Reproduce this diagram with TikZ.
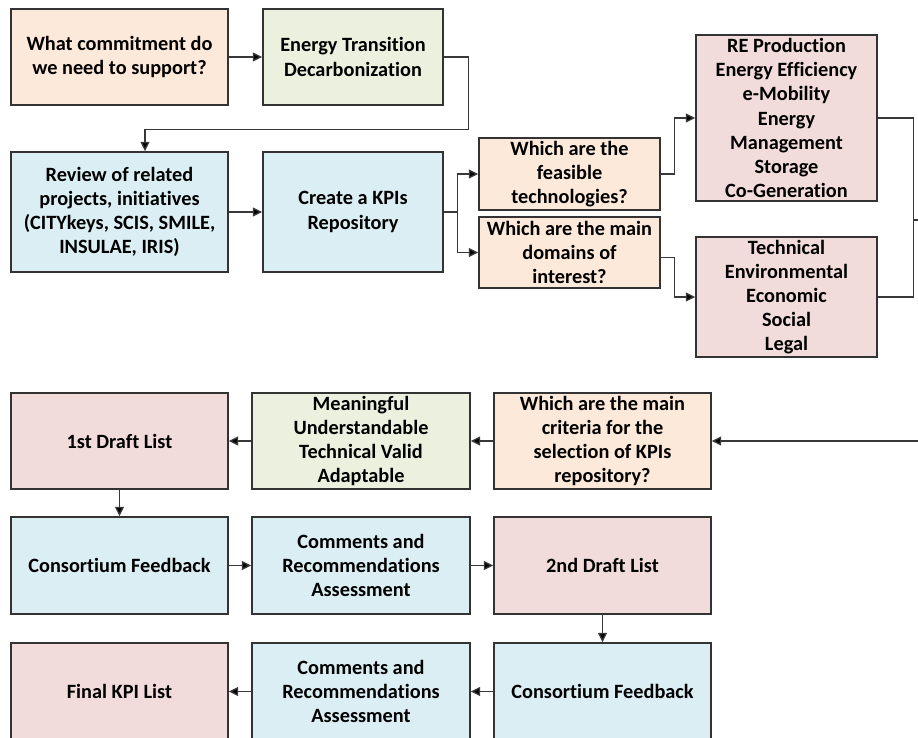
\documentclass[tikz,border=0pt]{standalone}
\usepackage{fontspec}
\setmainfont{Carlito}[Ligatures=NoCommon]
\usetikzlibrary{arrows.meta,calc}
\definecolor{fOrange}{HTML}{FDE9D9}
\definecolor{fGreen}{HTML}{EBF1DE}
\definecolor{fBlue}{HTML}{DAEEF3}
\definecolor{fPink}{HTML}{F2DCDB}
\definecolor{edgeC}{HTML}{333333}
\definecolor{lineC}{HTML}{383838}
\tikzset{
  box/.style={draw=edgeC, line width=1.4pt, inner sep=0pt, align=center,
    font=\fontsize{20.3}{24.2}\selectfont\bfseries, text=black},
  conn/.style={draw=lineC, line width=1.4pt},
  arr/.style={conn, -{Triangle[length=9.5pt,width=9pt,fill=black]}},
}
\begin{document}
\begin{tikzpicture}[x=1pt,y=-1pt]
\useasboundingbox (0,0) rectangle (918,738);
% top rows
\node[box, fill=fOrange, minimum width=217, minimum height=96] (A) at (119.5,57) {What commitment do\\we need to support?};
\node[box, fill=fGreen, minimum width=180, minimum height=96] (B) at (353,57) {Energy Transition\\Decarbonization};
\node[box, fill=fBlue, minimum width=217, minimum height=120] (C) at (119.5,212) {Review of related\\projects, initiatives\\(CITYkeys, SCIS, SMILE,\\INSULAE, IRIS)};
\node[box, fill=fBlue, minimum width=180, minimum height=120] (D) at (353,212) {Create a KPIs\\Repository};
\node[box, fill=fOrange, minimum width=181, minimum height=72] (feas) at (569.5,174) {Which are the\\feasible\\technologies?};
\node[box, fill=fOrange, minimum width=181, minimum height=71] (dom) at (569.5,252.5) {Which are the main\\domains of\\interest?};
\node[box, fill=fPink, minimum width=181, minimum height=166] (RE) at (786.5,118) {RE Production\\Energy Efficiency\\e-Mobility\\Energy\\Management\\Storage\\Co-Generation};
\node[box, fill=fPink, minimum width=181, minimum height=120] (tech) at (786.5,297) {Technical\\Environmental\\Economic\\Social\\Legal};
% lower rows
\node[box, fill=fPink, minimum width=217, minimum height=96] (draftA) at (119.5,441) {1st Draft List};
\node[box, fill=fGreen, minimum width=218, minimum height=96] (mean) at (361,441) {Meaningful\\Understandable\\Technical Valid\\Adaptable};
\node[box, fill=fOrange, minimum width=217, minimum height=96] (crit) at (602.5,441) {Which are the main\\criteria for the\\selection of KPIs\\repository?};
\node[box, fill=fBlue, minimum width=217, minimum height=97] (consA) at (119.5,565.5) {Consortium Feedback};
\node[box, fill=fBlue, minimum width=218, minimum height=97] (commA) at (361,565.5) {Comments and\\Recommendations\\Assessment};
\node[box, fill=fPink, minimum width=217, minimum height=97] (draftB) at (602.5,565.5) {2nd Draft List};
\node[box, fill=fBlue, minimum width=217, minimum height=97] (consB) at (602.5,691.5) {Consortium Feedback};
\node[box, fill=fBlue, minimum width=218, minimum height=97] (commB) at (361,691.5) {Comments and\\Recommendations\\Assessment};
\node[box, fill=fPink, minimum width=217, minimum height=97] (final) at (119.5,691.5) {Final KPI List};
% connectors
\draw[arr] (A) -- (B);
\draw[arr] (B.east) -- ++(25,0) |- ($(C.north)+(25.5,-22)$) -- ($(C.north)+(25.5,0)$);
\draw[arr] (C) -- (D);
\draw[arr] (D.east) -- ++(14,0) |- (feas.west);
\draw[arr] (D.east) -- ++(14,0) |- (dom.west);
\draw[arr] (feas.east) -- ++(14,0) |- (RE.west);
\draw[arr] ($(dom.east)+(0,5)$) -- ++(14,0) |- (tech.west);
\coordinate (outR) at (918,220);
\coordinate (inR) at (918,441);
\draw[conn] (RE.east) -- ++(36,0) |- (tech.east);
\draw[conn] ($(RE.east)+(36,102)$) -- (outR);
\draw[arr] (inR) -- (crit.east);
\draw[arr] (crit) -- (mean);
\draw[arr] (mean) -- (draftA);
\draw[arr] (draftA) -- (consA);
\draw[arr] (consA) -- (commA);
\draw[arr] (commA) -- (draftB);
\draw[arr] (draftB) -- (consB);
\draw[arr] (consB) -- (commB);
\draw[arr] (commB) -- (final);
\end{tikzpicture}
\end{document}
